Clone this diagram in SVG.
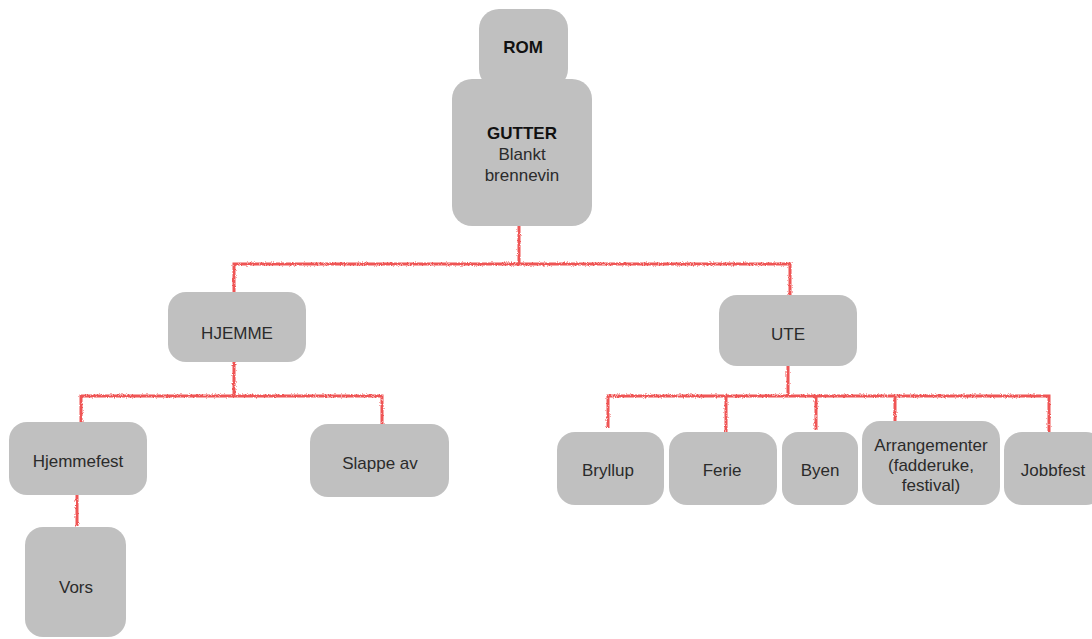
<svg xmlns="http://www.w3.org/2000/svg" width="1092" height="639" viewBox="0 0 1092 639">
  <defs>
    <!-- slight wobble for the hand-drawn connector lines -->
    <filter id="rough" x="-5%" y="-5%" width="110%" height="110%">
      <feTurbulence type="fractalNoise" baseFrequency="0.9" numOctaves="2" seed="3" result="noise"/>
      <feDisplacementMap in="SourceGraphic" in2="noise" scale="3" xChannelSelector="R" yChannelSelector="G"/>
    </filter>
  </defs>
  <style>
    .box { fill: #c0c0c0; }
    .lbl { font-family: "Liberation Sans", Arial, sans-serif; font-size: 17px; fill: #2b2b2b; text-anchor: middle; }
    .bold { font-weight: bold; fill: #111; }
    .link { fill: none; stroke: #ef5454; stroke-width: 3; stroke-linejoin: miter; }
  </style>
  <rect width="1092" height="639" fill="#ffffff"/>

  <g id="connectors" filter="url(#rough)">
    <path class="link" d="M519,226 V264 M234,292 V264 H790 V295"/>
    <path class="link" d="M234,362 V396 M81,422 V396 H382 V425"/>
    <path class="link" d="M77,495 V526"/>
    <path class="link" d="M788,366 V396 M608,428 V396 H1049 V432 M726,396 V434 M816,396 V430 M895,396 V421"/>
  </g>

  <g id="node-rom">
    <rect class="box" x="479" y="9" width="89" height="80" rx="20"/>
    <text class="lbl bold" x="523" y="53">ROM</text>
  </g>
  <g id="node-gutter">
    <rect class="box" x="452" y="79" width="140" height="147" rx="20"/>
    <text class="lbl bold" x="522" y="139">GUTTER</text>
    <text class="lbl" x="522" y="160">Blankt</text>
    <text class="lbl" x="522" y="181">brennevin</text>
  </g>
  <g id="node-hjemme">
    <rect class="box" x="168" y="292" width="138" height="70" rx="18"/>
    <text class="lbl" x="237" y="339">HJEMME</text>
  </g>
  <g id="node-ute">
    <rect class="box" x="719" y="295" width="138" height="71" rx="18"/>
    <text class="lbl" x="788" y="340">UTE</text>
  </g>
  <g id="node-hjemmefest">
    <rect class="box" x="9" y="422" width="138" height="73" rx="18"/>
    <text class="lbl" x="78" y="467">Hjemmefest</text>
  </g>
  <g id="node-slappe-av">
    <rect class="box" x="310" y="424" width="139" height="73" rx="18"/>
    <text class="lbl" x="380" y="469">Slappe av</text>
  </g>
  <g id="node-vors">
    <rect class="box" x="25" y="527" width="101" height="110" rx="18"/>
    <text class="lbl" x="76" y="593">Vors</text>
  </g>
  <g id="node-bryllup">
    <rect class="box" x="557" y="432" width="107" height="73" rx="18"/>
    <text class="lbl" x="608" y="476">Bryllup</text>
  </g>
  <g id="node-ferie">
    <rect class="box" x="669" y="432" width="108" height="73" rx="18"/>
    <text class="lbl" x="722" y="476">Ferie</text>
  </g>
  <g id="node-byen">
    <rect class="box" x="782" y="432" width="76" height="73" rx="16"/>
    <text class="lbl" x="820" y="476">Byen</text>
  </g>
  <g id="node-arrangementer">
    <rect class="box" x="862" y="421" width="138" height="84" rx="18"/>
    <text class="lbl" x="931" y="451">Arrangementer</text>
    <text class="lbl" x="931" y="471">(fadderuke,</text>
    <text class="lbl" x="931" y="491">festival)</text>
  </g>
  <g id="node-jobbfest">
    <rect class="box" x="1004" y="432" width="100" height="73" rx="18"/>
    <text class="lbl" x="1053" y="476">Jobbfest</text>
  </g>
</svg>
